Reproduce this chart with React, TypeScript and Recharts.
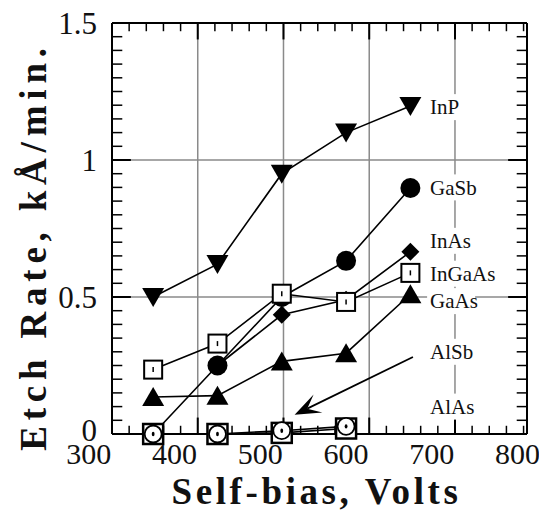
import React from "react";
import { LineChart, Line, XAxis, YAxis, ReferenceLine, ReferenceDot } from "recharts";

// values (volts, kA/min)
const volts = [375, 450, 525, 600, 675];
const inp = [0.5, 0.62, 0.95, 1.1, 1.197];
const gasb = [0, 0.25, 0.5, 0.632, 0.898];
const inas = [null, 0.25, 0.435, 0.49, 0.665];
const ingaas = [0.235, 0.33, 0.512, 0.482, 0.588];
const gaas = [0.135, 0.14, 0.265, 0.295, 0.51];
const alsb = [0, 0, 0.012, 0.028, null];
const alas = [0, 0, 0.004, 0.02, null];

const xLabelTicks = [300, 400, 500, 600, 700, 800];
const yLabelTicks = [0, 0.5, 1, 1.5];
const xGrid = [427, 527, 627, 727];
const yGrid = [0.5, 1];
const xMinor = [
  347, 367, 387, 407, 447, 467, 487, 507, 547, 567, 587, 607, 647, 667, 687,
  707, 747, 767, 787, 807,
];
const yMinor = [
  0.05, 0.1, 0.15, 0.2, 0.25, 0.3, 0.35, 0.4, 0.45, 0.55, 0.6, 0.65, 0.7,
  0.75, 0.8, 0.85, 0.9, 0.95, 1.05, 1.1, 1.15, 1.2, 1.25, 1.3, 1.35, 1.4, 1.45,
];

const seriesNames = ["InP", "GaSb", "InAs", "InGaAs", "GaAs", "AlSb", "AlAs"];
const labelY = [1.193, 0.9, 0.705, 0.585, 0.485, 0.3, 0.1];
const labelX = 698;

// leader arrow from the AlSb label down to its points
const arrowFrom = { x: 678, y: 0.281 };
const arrowTo = { x: 540, y: 0.07 };

const data = volts.map((v, i) => ({
  v,
  InP: inp[i],
  GaSb: gasb[i],
  InAs: inas[i],
  InGaAs: ingaas[i],
  GaAs: gaas[i],
  AlSb: alsb[i],
  AlAs: alas[i],
}));

const FONT = '"Liberation Serif", "Times New Roman", serif';
const GRID = "#8a8a8a";

const X_DOMAIN: [number, number] = [327, 811];
const Y_DOMAIN: [number, number] = [0, 1.5];
const [X0, X1] = X_DOMAIN;
const [Y0, Y1] = Y_DOMAIN;

// inward tick lengths, in data units
const TICK_X_MINOR = 0.03;
const TICK_X_MAJOR = 0.06;
const TICK_Y_MINOR = 12;
const TICK_Y_MAJOR = 22;

const empty = (key: any) => <g key={key} />;

const downTri = (p: any) => {
  const { cx, cy, index } = p;
  if (cy == null || isNaN(cy)) return empty(index);
  return <path key={index} d={`M${cx - 11},${cy - 9}L${cx + 11},${cy - 9}L${cx},${cy + 10}Z`} fill="#000" />;
};
const upTri = (p: any) => {
  const { cx, cy, index } = p;
  if (cy == null || isNaN(cy)) return empty(index);
  return <path key={index} d={`M${cx - 11},${cy + 9}L${cx + 11},${cy + 9}L${cx},${cy - 10}Z`} fill="#000" />;
};
const disc = (p: any) => {
  const { cx, cy, index } = p;
  if (cy == null || isNaN(cy)) return empty(index);
  return <circle key={index} cx={cx} cy={cy} r={10} fill="#000" />;
};
const diamond = (p: any) => {
  const { cx, cy, index } = p;
  if (cy == null || isNaN(cy)) return empty(index);
  return <path key={index} d={`M${cx},${cy - 9}L${cx + 9},${cy}L${cx},${cy + 9}L${cx - 9},${cy}Z`} fill="#000" />;
};
const openSquare = (p: any) => {
  const { cx, cy, index } = p;
  if (cy == null || isNaN(cy)) return empty(index);
  return (
    <g key={index}>
      <rect x={cx - 9} y={cy - 9} width={18} height={18} fill="#fff" stroke="#000" strokeWidth={2} />
      <line x1={cx} y1={cy - 2.5} x2={cx} y2={cy + 2.5} stroke="#000" strokeWidth={1.5} />
    </g>
  );
};
const blockSquare = (p: any) => {
  const { cx, cy, index } = p;
  if (cy == null || isNaN(cy)) return empty(index);
  return <rect key={index} x={cx - 10} y={cy - 10} width={20} height={20} fill="#fff" stroke="#000" strokeWidth={2.5} />;
};
const ringDot = (p: any) => {
  const { cx, cy, index } = p;
  if (cy == null || isNaN(cy)) return empty(index);
  return (
    <g key={index}>
      <circle cx={cx} cy={cy} r={8.5} fill="#fff" stroke="#000" strokeWidth={1.8} />
      <ellipse cx={cx} cy={cy} rx={1.4} ry={2.2} fill="#000" />
    </g>
  );
};

const seriesLabel = (name: string) => (p: any) => {
  const { cx, cy } = p;
  const w = name.length * 11 + 4;
  return (
    <g>
      <rect x={cx - 3} y={cy - 13} width={w} height={26} fill="#fff" />
      <text x={cx} y={cy} dy="0.35em" fontFamily={FONT} fontSize={21} fill="#111">
        {name}
      </text>
    </g>
  );
};

const arrowShape = (p: any) => {
  const { x1, y1, x2, y2 } = p;
  if ([x1, y1, x2, y2].some((n) => n == null || isNaN(n))) return <g />;
  const ang = Math.atan2(y2 - y1, x2 - x1);
  const back = (d: number, off: number) => [
    x2 - d * Math.cos(ang) - off * Math.sin(ang),
    y2 - d * Math.sin(ang) + off * Math.cos(ang),
  ];
  const [ax, ay] = back(26, 10);
  const [bx, by] = back(26, -10);
  const [mx, my] = back(14, 0);
  return (
    <g>
      <line x1={x1} y1={y1} x2={mx} y2={my} stroke="#000" strokeWidth={1.8} />
      <path d={`M${x2},${y2}L${ax},${ay}L${mx},${my}L${bx},${by}Z`} fill="#000" />
    </g>
  );
};

// y tick labels; the "0" sits a little above the frame corner
const YTick = (p: any) => {
  const { x, y, payload } = p;
  const lift = payload.value === 0 ? -4 : 0;
  return (
    <text x={x} y={y + lift} dy="0.355em" textAnchor="end" fontFamily={FONT} fontSize={31} fill="#111">
      {String(payload.value)}
    </text>
  );
};

const yTitle = (p: any) => {
  const vb = p.viewBox;
  const x = vb.x + 46;
  const y = vb.y + vb.height / 2 + 18;
  return (
    <text x={x} y={y} transform={`rotate(-90, ${x}, ${y})`} textAnchor="middle" fontFamily={FONT} fontWeight="bold" fontSize={37} letterSpacing={5.8} fill="#111">
      Etch Rate, kÅ/min.
    </text>
  );
};

const xTitle = (p: any) => {
  const vb = p.viewBox;
  return (
    <text x={vb.x + vb.width / 2 - 3} y={vb.y + 70} textAnchor="middle" fontFamily={FONT} fontWeight="bold" fontSize={37} letterSpacing={3.6} fill="#111">
      Self-bias, Volts
    </text>
  );
};

const lineProps = {
  xAxisId: "x",
  yAxisId: "y",
  type: "linear" as const,
  stroke: "#000",
  strokeWidth: 1.6,
  isAnimationActive: false,
  activeDot: false as const,
  connectNulls: false,
};

const refProps = { xAxisId: "x", yAxisId: "y", ifOverflow: "visible" as const };

export default function App() {
  return (
    <div style={{ position: "absolute", left: 0, top: 0, background: "#fff" }}>
      <LineChart width={539} height={517} data={data} margin={{ top: 23, right: 12, left: 0, bottom: 0 }}>
        <XAxis
          xAxisId="x"
          dataKey="v"
          type="number"
          domain={X_DOMAIN}
          allowDataOverflow
          ticks={xLabelTicks}
          interval={0}
          tickLine={false}
          tickMargin={3}
          axisLine={{ stroke: "#000", strokeWidth: 2 }}
          tick={{ fontSize: 30, fill: "#111", fontFamily: FONT }}
          height={83}
          label={{ content: xTitle }}
        />
        <YAxis
          yAxisId="y"
          type="number"
          domain={Y_DOMAIN}
          ticks={yLabelTicks}
          interval={0}
          width={112}
          tickLine={false}
          tickMargin={9}
          axisLine={{ stroke: "#000", strokeWidth: 2 }}
          tick={YTick}
          label={{ content: yTitle }}
        />

        {xGrid.map((g) => (
          <ReferenceLine key={`gx${g}`} {...refProps} x={g} stroke={GRID} strokeWidth={1.5} />
        ))}
        {yGrid.map((g) => (
          <ReferenceLine key={`gy${g}`} {...refProps} y={g} stroke={GRID} strokeWidth={1.5} />
        ))}

        {/* frame top and right */}
        <ReferenceLine {...refProps} y={Y1} stroke="#000" strokeWidth={2} />
        <ReferenceLine {...refProps} x={X1} stroke="#000" strokeWidth={2} />

        {/* inward tick marks on all four sides */}
        {xMinor.map((t) => (
          <ReferenceLine key={`tb${t}`} {...refProps} segment={[{ x: t, y: Y0 }, { x: t, y: Y0 + TICK_X_MINOR }]} stroke="#000" strokeWidth={1.5} />
        ))}
        {xMinor.map((t) => (
          <ReferenceLine key={`tt${t}`} {...refProps} segment={[{ x: t, y: Y1 }, { x: t, y: Y1 - TICK_X_MINOR }]} stroke="#000" strokeWidth={1.5} />
        ))}
        {xGrid.map((t) => (
          <ReferenceLine key={`Tb${t}`} {...refProps} segment={[{ x: t, y: Y0 }, { x: t, y: Y0 + TICK_X_MAJOR }]} stroke="#000" strokeWidth={2} />
        ))}
        {xGrid.map((t) => (
          <ReferenceLine key={`Tt${t}`} {...refProps} segment={[{ x: t, y: Y1 }, { x: t, y: Y1 - TICK_X_MAJOR }]} stroke="#000" strokeWidth={2} />
        ))}
        {yMinor.map((t) => (
          <ReferenceLine key={`tl${t}`} {...refProps} segment={[{ x: X0, y: t }, { x: X0 + TICK_Y_MINOR, y: t }]} stroke="#000" strokeWidth={1.5} />
        ))}
        {yMinor.map((t) => (
          <ReferenceLine key={`tr${t}`} {...refProps} segment={[{ x: X1, y: t }, { x: X1 - TICK_Y_MINOR, y: t }]} stroke="#000" strokeWidth={1.5} />
        ))}
        {yGrid.map((t) => (
          <ReferenceLine key={`Tl${t}`} {...refProps} segment={[{ x: X0, y: t }, { x: X0 + TICK_Y_MAJOR, y: t }]} stroke="#000" strokeWidth={2} />
        ))}
        {yGrid.map((t) => (
          <ReferenceLine key={`Tr${t}`} {...refProps} segment={[{ x: X1, y: t }, { x: X1 - TICK_Y_MAJOR, y: t }]} stroke="#000" strokeWidth={2} />
        ))}

        <Line {...lineProps} dataKey="InP" dot={downTri} />
        <Line {...lineProps} dataKey="GaAs" dot={upTri} />
        <Line {...lineProps} dataKey="GaSb" dot={disc} />
        <Line {...lineProps} dataKey="InAs" dot={diamond} />
        <Line {...lineProps} dataKey="InGaAs" dot={openSquare} />
        <Line {...lineProps} dataKey="AlAs" dot={blockSquare} />
        <Line {...lineProps} dataKey="AlSb" dot={ringDot} />

        {seriesNames.map((name, i) => (
          <ReferenceDot key={name} xAxisId="x" yAxisId="y" x={labelX} y={labelY[i]} r={0} shape={seriesLabel(name)} />
        ))}
        <ReferenceLine
          xAxisId="x"
          yAxisId="y"
          segment={[arrowFrom, arrowTo]}
          shape={arrowShape}
        />
      </LineChart>
    </div>
  );
}
